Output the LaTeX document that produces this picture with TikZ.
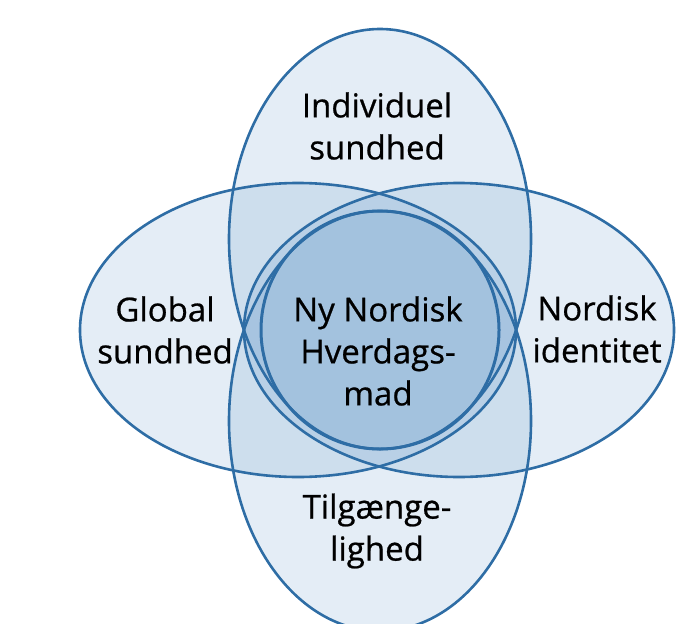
\documentclass[tikz,border=0pt]{standalone}
\usepackage{fontspec}
\setmainfont{Open Sans}[FakeBold=0.7]
\definecolor{vennblue}{HTML}{2E6DA5}
\definecolor{vennfill}{HTML}{3276B6}
\begin{document}
\begin{tikzpicture}[x=1pt,y=-1pt]
	\tikzstyle{set} = [fill=vennfill, fill opacity=0.13]
	\tikzstyle{rim} = [draw=vennblue, line width=2.6pt]
	\tikzstyle{core} = [fill=vennfill, fill opacity=0.03]
	\tikzstyle{lbl} = [align=center, font=\fontsize{33}{42}\selectfont, text=black]
	\useasboundingbox (0,0) rectangle (676,623);
	\fill[set] (380,239) ellipse [x radius=151pt, y radius=210pt];
	\fill[set] (380,421) ellipse [x radius=151pt, y radius=210pt];
	\fill[set] (298,330) ellipse [x radius=218pt, y radius=147pt];
	\fill[set] (459,330) ellipse [x radius=215pt, y radius=147pt];
	\fill[core] (380,330) circle [radius=119pt];
	\draw[rim] (380,239) ellipse [x radius=151pt, y radius=210pt];
	\draw[rim] (380,421) ellipse [x radius=151pt, y radius=210pt];
	\draw[rim] (298,330) ellipse [x radius=218pt, y radius=147pt];
	\draw[rim] (459,330) ellipse [x radius=215pt, y radius=147pt];
	\draw[rim, line width=3pt] (380,330) circle [radius=119pt];
	\node[lbl] (indiv) at (377,126) {Individuel\\sundhed};
	\node[lbl] (global) at (165,330) {Global\\sundhed};
	\node[lbl] (nordisk) at (597,329) {Nordisk\\identitet};
	\node[lbl] (hverdag) at (378,351) {Ny Nordisk\\Hverdags-\\mad};
	\node[lbl] (tilgang) at (377,531) {Tilgænge-\\lighed};
\end{tikzpicture}
\end{document}
